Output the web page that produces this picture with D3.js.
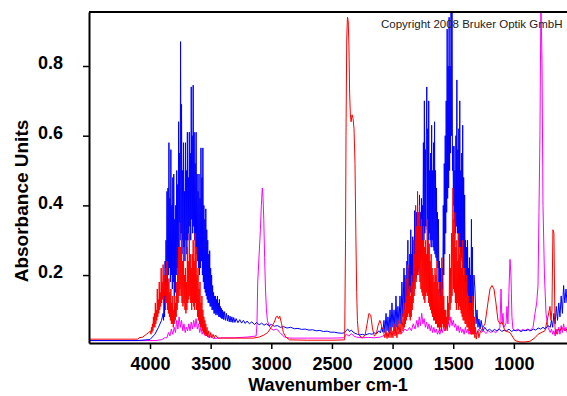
<!DOCTYPE html>
<html lang="en">
<head>
    <meta charset="UTF-8">
    <style>
        html, body {
            margin:0;
            height:100%;
            overflow:hidden;
            background:#fff;
        }
        svg {
            position:absolute;
            top:0;
            left:0;
        }
        .tick text, .lbl {
            font-family:"Liberation Sans", Arial, sans-serif;
            font-weight:bold;
        }
    </style>
    <script src="https://d3js.org/d3.v7.min.js"></script>
</head>
<body>
<svg width="567" height="396"></svg>
<script>
    // tick labels
    var xTicks = [4000, 3500, 3000, 2500, 2000, 1500, 1000];
    var yTicks = [0.2, 0.4, 0.6, 0.8];

    // spectra: [wavenumber, absorbance]
    var blueSpectrum = [
        [4503,0.012],[4100,0.012],[4000,0.015],[3960,0.03],[3930,0.05],[3905,0.07],[3892,0.09],
        [3888,0.07],[3884,0.16],[3880,0.08],[3876,0.24],[3872,0.10],[3868,0.30],[3864,0.12],[3860,0.44],
        [3856,0.16],[3852,0.45],[3848,0.20],[3844,0.58],[3840,0.22],[3836,0.42],[3832,0.18],[3828,0.56],
        [3824,0.20],[3820,0.40],[3816,0.16],[3812,0.48],[3808,0.18],[3804,0.49],[3800,0.14],[3796,0.36],
        [3792,0.15],[3788,0.40],[3784,0.20],[3780,0.50],[3776,0.22],[3772,0.46],[3768,0.25],[3764,0.64],
        [3760,0.28],[3756,0.55],[3752,0.30],[3748,0.87],[3744,0.32],[3740,0.69],[3736,0.30],[3732,0.50],
        [3728,0.26],[3724,0.58],[3720,0.28],[3716,0.44],[3712,0.24],[3708,0.58],[3704,0.30],[3700,0.50],
        [3696,0.26],[3692,0.61],[3688,0.30],[3684,0.48],[3680,0.32],[3676,0.61],[3672,0.34],[3668,0.55],
        [3664,0.30],[3660,0.74],[3656,0.36],[3652,0.60],[3648,0.32],[3644,0.745],[3640,0.34],[3636,0.61],
        [3632,0.30],[3628,0.52],[3624,0.28],[3620,0.61],[3616,0.26],[3612,0.49],[3608,0.24],[3604,0.44],
        [3600,0.22],[3596,0.49],[3592,0.20],[3588,0.42],[3584,0.22],[3580,0.565],[3576,0.24],[3572,0.48],
        [3568,0.20],[3564,0.565],[3560,0.18],[3556,0.40],[3552,0.16],[3548,0.36],[3544,0.15],[3540,0.39],
        [3536,0.14],[3532,0.33],[3528,0.13],[3524,0.30],[3520,0.12],[3516,0.26],[3512,0.12],[3508,0.27],
        [3504,0.11],[3500,0.22],[3496,0.11],[3492,0.20],[3488,0.10],[3484,0.17],[3480,0.10],[3476,0.15],
        [3472,0.09],[3468,0.14],[3464,0.09],[3460,0.14],[3456,0.085],[3452,0.13],[3448,0.09],[3444,0.14],
        [3440,0.085],[3436,0.12],[3432,0.08],[3428,0.13],[3424,0.08],[3420,0.11],[3416,0.078],[3412,0.105],
        [3408,0.075],[3404,0.10],[3400,0.075],[3396,0.095],[3392,0.072],
        [3385,0.095],[3378,0.07],[3370,0.09],[3362,0.068],[3355,0.085],[3347,0.066],[3340,0.082],[3332,0.065],
        [3325,0.08],[3317,0.064],[3310,0.078],[3300,0.064],[3290,0.075],[3275,0.063],[3260,0.072],[3245,0.062],
        [3230,0.07],[3215,0.061],[3200,0.068],[3180,0.06],[3160,0.066],[3140,0.058],[3120,0.064],[3100,0.057],
        [3080,0.062],[3060,0.056],[3040,0.06],[3020,0.055],[3000,0.058],[2975,0.053],[2950,0.055],[2925,0.05],
        [2900,0.052],[2870,0.048],[2840,0.05],[2810,0.046],[2780,0.047],[2750,0.044],[2720,0.045],[2690,0.042],
        [2660,0.043],[2630,0.04],[2600,0.041],[2570,0.038],[2540,0.039],[2510,0.036],[2480,0.036],[2450,0.034],
        [2420,0.033],[2400,0.034],[2385,0.04],[2370,0.045],[2355,0.038],[2340,0.042],[2325,0.036],[2310,0.033],
        [2290,0.03],[2270,0.028],[2250,0.03],[2230,0.028],[2210,0.03],[2190,0.032],[2170,0.03],[2150,0.034],
        [2130,0.032],[2115,0.04],[2100,0.034],[2090,0.05],[2080,0.036],
        [2079,0.04],[2071,0.07],[2063,0.035],[2054,0.09],[2046,0.04],[2038,0.08],[2030,0.035],[2021,0.10],
        [2013,0.04],[2005,0.12],[1997,0.05],[1988,0.10],[1980,0.04],[1972,0.14],[1964,0.05],[1956,0.11],
        [1947,0.06],[1939,0.14],[1931,0.06],[1923,0.18],[1915,0.08],[1906,0.22],
        [1902,0.10],[1898,0.20],[1894,0.12],[1890,0.18],[1886,0.11],[1882,0.24],[1878,0.13],[1874,0.30],
        [1870,0.14],[1866,0.22],[1862,0.13],[1858,0.26],[1854,0.15],[1850,0.33],[1846,0.16],[1842,0.26],
        [1838,0.15],[1834,0.31],[1830,0.17],[1826,0.28],[1822,0.18],[1818,0.385],[1814,0.20],[1810,0.34],
        [1806,0.19],[1802,0.38],[1798,0.20],[1794,0.32],[1790,0.21],[1786,0.34],[1782,0.22],[1778,0.43],
        [1774,0.24],[1770,0.38],[1766,0.25],[1762,0.42],[1758,0.26],[1754,0.40],[1750,0.28],[1746,0.58],
        [1742,0.30],[1738,0.70],[1734,0.32],[1730,0.56],[1726,0.34],[1722,0.60],[1718,0.74],[1714,0.33],
        [1710,0.62],[1706,0.30],[1702,0.70],[1698,0.32],[1694,0.50],[1690,0.30],[1686,0.55],[1682,0.28],
        [1678,0.63],[1674,0.30],[1670,0.50],[1666,0.28],[1662,0.58],[1658,0.27],[1654,0.64],[1650,0.26],
        [1646,0.50],[1642,0.25],[1638,0.45],[1634,0.24],[1630,0.38],[1626,0.22],[1622,0.36],[1618,0.18],
        [1614,0.24],[1610,0.15],[1606,0.22],[1602,0.13],[1598,0.20],[1594,0.14],[1590,0.22],[1586,0.16],
        [1582,0.40],[1578,0.20],[1574,0.52],[1570,0.26],[1566,0.60],[1562,0.32],[1558,0.70],[1554,0.38],
        [1550,0.906],[1546,0.42],[1542,0.80],[1538,0.45],[1534,0.94],[1530,0.50],[1526,0.80],[1522,0.55],
        [1518,0.96],[1514,0.60],[1510,0.96],[1506,0.50],[1502,0.57],[1498,0.40],[1494,0.57],[1490,0.35],
        [1486,0.50],[1482,0.32],[1478,0.60],[1474,0.34],[1470,0.76],[1466,0.32],[1462,0.56],[1458,0.30],
        [1454,0.62],[1450,0.28],[1446,0.70],[1442,0.26],[1438,0.50],[1434,0.25],[1430,0.55],[1426,0.24],
        [1422,0.63],[1418,0.22],[1414,0.48],[1410,0.20],[1406,0.43],[1402,0.18],[1398,0.30],[1394,0.15],
        [1390,0.28],[1386,0.14],[1382,0.30],[1378,0.13],[1374,0.22],[1370,0.12],[1366,0.25],[1362,0.11],
        [1358,0.20],[1354,0.10],[1350,0.36],[1346,0.09],[1342,0.28],[1338,0.08],
        [1329,0.20],[1321,0.16],[1312,0.06],[1304,0.10],[1296,0.05],[1288,0.074],[1279,0.045],[1270,0.07],[1255,0.04],
        [1240,0.05],[1220,0.04],[1200,0.045],[1180,0.038],[1160,0.044],[1140,0.04],[1120,0.045],[1100,0.038],
        [1080,0.042],[1060,0.04],[1040,0.045],[1020,0.038],[1000,0.042],[980,0.04],[960,0.043],[940,0.038],
        [920,0.042],[900,0.04],[880,0.044],[860,0.04],[840,0.045],[820,0.042],[800,0.048],[780,0.045],
        [760,0.05],[740,0.045],[720,0.055],[700,0.05],[690,0.07],[680,0.05],[670,0.09],[660,0.06],
        [650,0.11],[640,0.07],[630,0.12],[620,0.08],[610,0.14],[600,0.09],[590,0.17],[580,0.12],
        [570,0.16],[562,0.12]
    ];

    var redSpectrum = [
        [4503,0.016],[4100,0.016],[4090,0.02],[4060,0.022],[4030,0.03],[4010,0.035],[3996,0.04],
        [3992,0.03],[3988,0.05],[3984,0.035],[3980,0.06],[3976,0.04],[3972,0.08],[3968,0.05],[3964,0.09],
        [3960,0.05],[3956,0.12],[3952,0.06],[3948,0.10],[3944,0.07],[3940,0.16],[3936,0.08],[3932,0.13],
        [3928,0.09],[3924,0.18],[3920,0.10],[3916,0.15],[3912,0.11],[3908,0.22],[3904,0.12],[3900,0.18],
        [3896,0.13],[3892,0.23],[3888,0.12],[3884,0.20],[3880,0.14],[3876,0.18],[3872,0.10],[3868,0.22],
        [3864,0.12],[3860,0.24],[3856,0.10],[3852,0.18],[3848,0.09],[3844,0.19],[3840,0.08],[3836,0.15],
        [3832,0.07],[3828,0.16],[3824,0.06],[3820,0.12],[3816,0.06],[3812,0.14],[3808,0.05],[3804,0.10],
        [3800,0.06],[3796,0.14],[3792,0.07],[3788,0.12],[3784,0.08],[3780,0.18],[3776,0.10],[3772,0.22],
        [3768,0.12],[3764,0.28],[3760,0.14],[3756,0.35],[3752,0.16],[3748,0.28],[3744,0.14],[3740,0.30],
        [3736,0.12],[3732,0.24],[3728,0.11],[3724,0.26],[3720,0.12],[3716,0.20],[3712,0.10],[3708,0.22],
        [3704,0.09],[3700,0.18],[3696,0.10],[3692,0.28],[3688,0.12],[3684,0.24],[3680,0.13],[3676,0.32],
        [3672,0.14],[3668,0.26],[3664,0.12],[3660,0.22],[3656,0.10],[3652,0.26],[3648,0.12],[3644,0.30],
        [3640,0.11],[3636,0.24],[3632,0.10],[3628,0.32],[3624,0.12],[3620,0.28],[3616,0.10],[3612,0.20],
        [3608,0.08],[3604,0.22],[3600,0.07],[3596,0.16],[3592,0.06],[3588,0.18],[3584,0.05],[3580,0.12],
        [3576,0.05],[3572,0.14],[3568,0.04],[3564,0.10],[3560,0.035],[3556,0.08],[3552,0.03],[3548,0.07],
        [3544,0.03],[3540,0.06],[3536,0.025],[3530,0.05],[3524,0.022],[3516,0.04],[3508,0.02],[3500,0.035],
        [3490,0.02],[3480,0.03],[3470,0.02],[3460,0.028],[3440,0.019],[3420,0.019],[3300,0.019],[3150,0.019],
        [3100,0.022],[3060,0.028],[3030,0.035],[3000,0.05],[2975,0.065],[2960,0.08],[2950,0.082],[2940,0.075],
        [2930,0.082],[2915,0.06],[2900,0.035],[2880,0.022],[2850,0.014],[2700,0.013],[2500,0.013],[2395,0.014],
        [2388,0.3],[2384,0.6],[2378,0.88],[2372,0.94],[2366,0.93],[2360,0.86],[2354,0.72],[2348,0.66],
        [2342,0.64],[2334,0.66],[2326,0.65],[2318,0.62],[2310,0.52],[2303,0.32],[2296,0.15],[2290,0.07],
        [2282,0.035],[2270,0.025],[2250,0.02],[2240,0.022],[2225,0.03],[2210,0.06],[2195,0.09],[2180,0.085],
        [2165,0.045],[2150,0.025],[2135,0.03],[2120,0.055],[2105,0.07],[2095,0.06],[2085,0.045],[2075,0.05],
        [2071,0.03],[2063,0.02],[2054,0.04],[2046,0.018],[2038,0.035],[2030,0.02],[2021,0.05],[2013,0.02],
        [2005,0.04],[1997,0.02],[1988,0.06],[1980,0.025],[1972,0.05],[1964,0.02],[1956,0.07],[1947,0.03],
        [1939,0.06],[1931,0.03],[1923,0.09],[1915,0.04],
        [1910,0.05],[1906,0.12],[1902,0.05],[1898,0.10],[1894,0.06],[1890,0.19],[1886,0.07],[1882,0.14],
        [1878,0.08],[1874,0.23],[1870,0.09],[1866,0.16],[1862,0.08],[1858,0.17],[1854,0.07],[1850,0.14],
        [1846,0.08],[1842,0.20],[1838,0.10],[1834,0.18],[1830,0.12],[1826,0.30],[1822,0.14],[1818,0.26],
        [1814,0.16],[1810,0.40],[1806,0.18],[1802,0.34],[1798,0.20],[1794,0.44],[1790,0.22],[1786,0.38],
        [1782,0.20],[1778,0.40],[1774,0.18],[1770,0.34],[1766,0.16],[1762,0.36],[1758,0.15],[1754,0.30],
        [1750,0.14],[1746,0.34],[1742,0.13],[1738,0.28],[1734,0.12],[1730,0.30],[1726,0.14],[1722,0.26],
        [1718,0.15],[1714,0.36],[1710,0.14],[1706,0.30],[1702,0.12],[1698,0.29],[1694,0.11],[1690,0.24],
        [1686,0.10],[1682,0.26],[1678,0.09],[1674,0.22],[1670,0.08],[1666,0.20],[1662,0.07],[1658,0.18],
        [1654,0.07],[1650,0.22],[1646,0.06],[1642,0.20],[1638,0.06],[1634,0.24],[1630,0.05],[1626,0.18],
        [1622,0.05],[1618,0.16],[1614,0.04],[1610,0.18],[1606,0.05],[1602,0.14],[1598,0.04],[1594,0.25],
        [1590,0.06],[1586,0.16],[1582,0.05],[1578,0.14],[1574,0.05],[1570,0.10],[1566,0.04],[1562,0.10],
        [1558,0.05],[1554,0.08],[1550,0.04],[1546,0.14],[1542,0.06],[1538,0.12],[1534,0.07],[1530,0.26],
        [1526,0.10],[1522,0.22],[1518,0.12],[1514,0.32],[1510,0.14],[1506,0.28],[1502,0.45],[1498,0.16],
        [1494,0.36],[1490,0.15],[1486,0.38],[1482,0.12],[1478,0.28],[1474,0.10],[1470,0.30],[1466,0.12],
        [1462,0.24],[1458,0.10],[1454,0.32],[1450,0.11],[1446,0.26],[1442,0.10],[1438,0.28],[1434,0.09],
        [1430,0.22],[1426,0.08],[1422,0.30],[1418,0.07],[1414,0.20],[1410,0.07],[1406,0.22],[1402,0.06],
        [1398,0.18],[1394,0.06],[1390,0.20],[1386,0.05],[1382,0.15],[1378,0.05],[1374,0.14],[1370,0.04],
        [1366,0.12],[1362,0.04],[1358,0.12],[1354,0.03],[1350,0.10],[1346,0.03],[1342,0.14],[1338,0.03],
        [1334,0.10],[1330,0.03],[1326,0.08],[1322,0.02],[1316,0.05],[1310,0.016],[1304,0.03],[1296,0.04],
        [1288,0.02],[1279,0.035],[1238,0.06],[1214,0.12],[1197,0.16],[1181,0.17],[1164,0.16],[1148,0.12],
        [1131,0.07],[1115,0.06],[1098,0.065],[1074,0.04],[1032,0.035],[991,0.012],[950,0.008],[909,0.008],
        [867,0.01],[826,0.02],[801,0.03],[768,0.036],[744,0.04],[719,0.08],[702,0.11],[694,0.07],
        [686,0.10],[678,0.33],[670,0.32],[661,0.05],[653,0.03],[637,0.045],[620,0.04],[604,0.05],
        [579,0.04],[562,0.045]
    ];

    var magentaSpectrum = [
        [4503,0.012],[3950,0.012],[3900,0.015],[3880,0.02],[3860,0.02],[3848,0.035],[3836,0.025],[3824,0.045],
        [3812,0.03],[3800,0.05],[3790,0.035],[3780,0.07],[3770,0.045],[3760,0.08],[3750,0.05],[3740,0.07],
        [3730,0.04],[3720,0.06],[3710,0.035],[3700,0.05],[3690,0.04],[3680,0.06],[3670,0.04],[3660,0.065],
        [3650,0.045],[3640,0.07],[3630,0.05],[3620,0.075],[3610,0.045],[3600,0.06],[3590,0.035],[3580,0.05],
        [3570,0.03],[3560,0.04],[3545,0.025],[3530,0.035],[3515,0.02],[3500,0.025],[3480,0.018],[3400,0.02],
        [3300,0.02],[3200,0.022],[3150,0.024],[3125,0.025],[3118,0.06],[3112,0.18],[3100,0.26],[3090,0.33],
        [3082,0.40],[3074,0.45],[3068,0.42],[3062,0.36],[3055,0.25],[3048,0.16],[3040,0.10],[3032,0.07],
        [3020,0.055],[3000,0.045],[2980,0.042],[2960,0.045],[2945,0.042],[2930,0.035],[2910,0.028],[2890,0.022],
        [2850,0.019],[2700,0.019],[2500,0.019],[2400,0.02],[2380,0.03],[2360,0.025],[2340,0.032],[2320,0.025],
        [2300,0.022],[2250,0.02],[2200,0.021],[2150,0.02],[2100,0.022],[2080,0.025],[2060,0.03],[2040,0.025],
        [2020,0.035],[2000,0.03],[1980,0.035],[1960,0.03],[1940,0.04],[1920,0.035],[1900,0.045],[1880,0.04],
        [1860,0.05],[1845,0.04],[1830,0.06],[1815,0.045],[1800,0.07],[1790,0.05],[1780,0.08],[1770,0.055],
        [1760,0.09],[1750,0.06],[1740,0.075],[1730,0.05],[1720,0.065],[1710,0.045],[1700,0.06],[1690,0.04],
        [1680,0.055],[1670,0.035],[1660,0.05],[1650,0.035],[1640,0.045],[1630,0.03],[1620,0.04],[1610,0.03],
        [1600,0.045],[1590,0.035],[1580,0.05],[1570,0.04],[1560,0.06],[1550,0.045],[1540,0.065],[1530,0.05],
        [1520,0.08],[1510,0.055],[1500,0.07],[1490,0.05],[1480,0.06],[1470,0.04],[1460,0.055],[1450,0.035],
        [1440,0.05],[1430,0.035],[1420,0.045],[1410,0.03],[1400,0.05],[1390,0.035],[1380,0.045],[1370,0.03],
        [1360,0.04],[1350,0.03],[1330,0.04],[1310,0.03],[1290,0.045],[1270,0.035],[1250,0.04],[1230,0.032],
        [1210,0.04],[1190,0.035],[1170,0.04],[1150,0.034],[1130,0.042],[1115,0.05],[1106,0.16],[1098,0.06],
        [1090,0.09],[1082,0.05],[1065,0.06],[1057,0.11],[1049,0.06],[1041,0.15],[1032,0.245],[1024,0.20],
        [1016,0.08],[1008,0.045],[990,0.04],[970,0.045],[950,0.038],[930,0.044],[910,0.04],[890,0.045],
        [870,0.04],[850,0.046],[842,0.05],[826,0.09],[812,0.12],[801,0.17],[793,0.38],[785,0.60],
        [777,0.99],[768,0.81],[760,0.40],[748,0.20],[735,0.09],[719,0.05],[700,0.035],[690,0.045],
        [680,0.03],[670,0.04],[660,0.025],[650,0.045],[640,0.03],[630,0.05],[620,0.03],[610,0.055],
        [600,0.035],[590,0.06],[580,0.04],[570,0.05],[562,0.035]
    ];

    var svg = d3.select("svg");
    var plotLeft = 89, plotRight = 567, plotTop = 12, plotBottom = 343;

    var x = d3.scaleLinear().domain([4503, 562]).range([plotLeft, plotRight]);
    var y = d3.scaleLinear().domain([0.005, 0.955]).range([plotBottom, plotTop]);

    svg.append("clipPath").attr("id", "plotclip")
        .append("rect")
        .attr("x", plotLeft).attr("y", plotTop)
        .attr("width", plotRight - plotLeft).attr("height", plotBottom - plotTop);

    var line = d3.line()
        .x(function(d) { return x(d[0]); })
        .y(function(d) { return y(d[1]); });

    var plot = svg.append("g").attr("clip-path", "url(#plotclip)");

    // drawing order: magenta, blue, red on top
    [[magentaSpectrum, "#ff00ff"], [blueSpectrum, "#0000ff"], [redSpectrum, "#ff0000"]].forEach(function(s) {
        plot.append("path")
            .datum(s[0])
            .attr("fill", "none")
            .attr("stroke", s[1])
            .attr("stroke-width", 1)
            .attr("d", line);
    });

    // frame
    svg.append("line")
        .attr("x1", plotLeft).attr("x2", plotRight)
        .attr("y1", plotTop).attr("y2", plotTop)
        .attr("stroke", "#000").attr("stroke-width", 2);

    var xAxis = svg.append("g")
        .attr("transform", "translate(0," + plotBottom + ")")
        .call(d3.axisBottom(x).tickValues(xTicks).tickSize(6).tickSizeOuter(0).tickPadding(8)
            .tickFormat(d3.format("d")));

    var yAxis = svg.append("g")
        .attr("transform", "translate(" + plotLeft + ",0)")
        .call(d3.axisLeft(y).tickValues(yTicks).tickSize(6).tickSizeOuter(0).tickPadding(20)
            .tickFormat(d3.format(".1f")));

    [xAxis, yAxis].forEach(function(a) {
        a.select(".domain").attr("stroke-width", 2);
        a.selectAll(".tick line").attr("stroke-width", 1.5);
        a.selectAll(".tick text").style("font-size", "18px").attr("fill", "#000");
    });

    yAxis.selectAll(".tick text").attr("dy", "0.15em");

    svg.append("text")
        .attr("class", "lbl")
        .attr("x", 328).attr("y", 391)
        .attr("text-anchor", "middle")
        .style("font-size", "18px")
        .text("Wavenumber cm-1");

    svg.append("text")
        .attr("class", "lbl")
        .attr("transform", "translate(28,201) rotate(-90)")
        .attr("text-anchor", "middle")
        .style("font-size", "19px")
        .text("Absorbance Units");

    svg.append("text")
        .attr("x", 381).attr("y", 28)
        .style("font-family", "'Liberation Sans', Arial, sans-serif")
        .style("font-size", "11.5px")
        .attr("fill", "#222")
        .text("Copyright 2008 Bruker Optik GmbH");
</script>
</body>
</html>
